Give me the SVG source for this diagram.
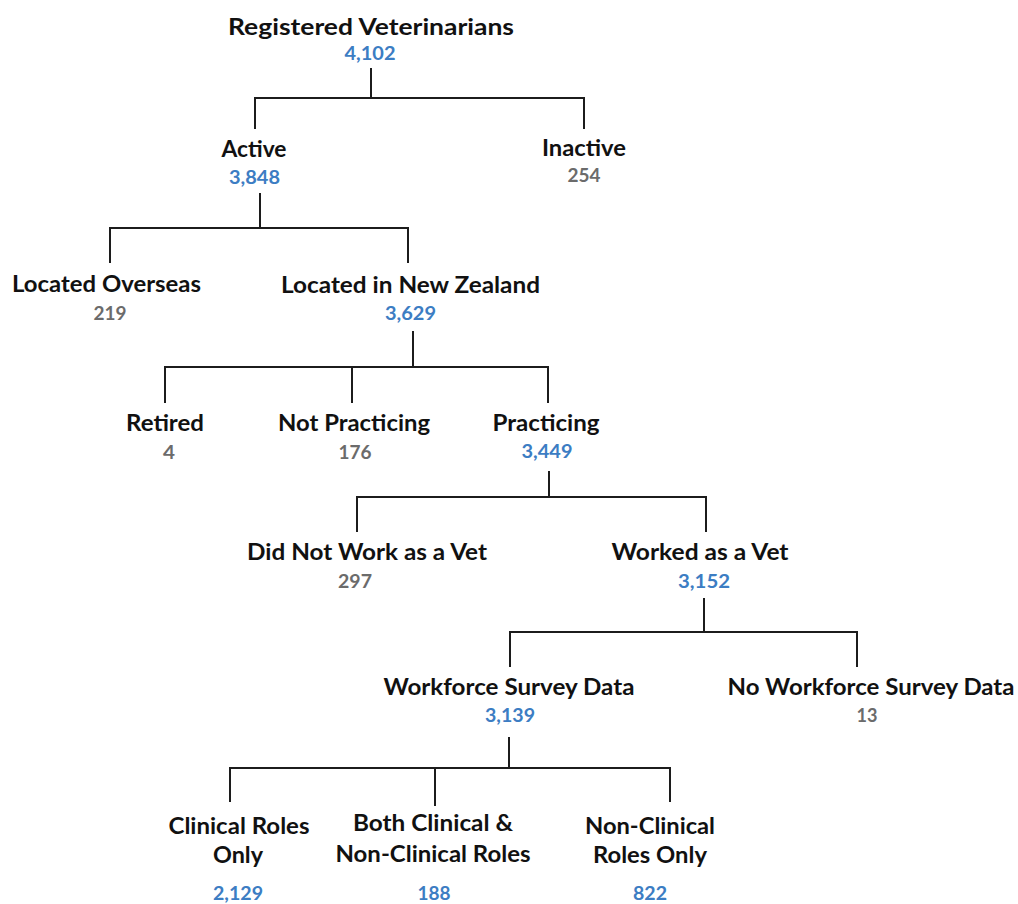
<svg xmlns="http://www.w3.org/2000/svg" width="1018" height="904" viewBox="0 0 1018 904">
<style>
text{font-family:Lato,"Liberation Sans",sans-serif;font-weight:bold;text-anchor:middle}
.l{font-size:22px;fill:#111}
.b{font-size:19px;fill:#3c7dc3}
.g{font-size:19px;fill:#6b6b6b}
.c path{fill:none;stroke:#1c1c1c;stroke-width:2}
</style>
<rect width="1018" height="904" fill="#fff"/>
<g class="c" id="connectors">
<path d="M371,68V98M255,129V98H584V129"/>
<path d="M260,193V228M110,263V228H408V263"/>
<path d="M413,331V367M165,403V367H548V403M352,367V403"/>
<path d="M549,471V497M357,532V497H706V532"/>
<path d="M704,598V632M510,667V632H857V667"/>
<path d="M509,737V768M230,802V768H670V802M435,768V806"/>
</g>
<g id="n-registered"><text class="l" x="371" y="35" textLength="286" lengthAdjust="spacingAndGlyphs">Registered Veterinarians</text><text class="b" x="370" y="60" textLength="51" lengthAdjust="spacingAndGlyphs">4,102</text></g>
<g id="n-active"><text class="l" x="254" y="157" textLength="65" lengthAdjust="spacingAndGlyphs">Active</text><text class="b" x="254.5" y="184" textLength="51" lengthAdjust="spacingAndGlyphs">3,848</text></g>
<g id="n-inactive"><text class="l" x="584" y="156" textLength="84" lengthAdjust="spacingAndGlyphs">Inactive</text><text class="g" x="584" y="182" textLength="33" lengthAdjust="spacingAndGlyphs">254</text></g>
<g id="n-overseas"><text class="l" x="106.5" y="292" textLength="189" lengthAdjust="spacingAndGlyphs">Located Overseas</text><text class="g" x="110" y="320" textLength="33" lengthAdjust="spacingAndGlyphs">219</text></g>
<g id="n-nz"><text class="l" x="410.5" y="293" textLength="259" lengthAdjust="spacingAndGlyphs">Located in New Zealand</text><text class="b" x="410.5" y="320" textLength="51" lengthAdjust="spacingAndGlyphs">3,629</text></g>
<g id="n-retired"><text class="l" x="165" y="431" textLength="78" lengthAdjust="spacingAndGlyphs">Retired</text><text class="g" x="169" y="459" textLength="12" lengthAdjust="spacingAndGlyphs">4</text></g>
<g id="n-notpracticing"><text class="l" x="354" y="431" textLength="152" lengthAdjust="spacingAndGlyphs">Not Practicing</text><text class="g" x="355" y="459" textLength="33" lengthAdjust="spacingAndGlyphs">176</text></g>
<g id="n-practicing"><text class="l" x="546" y="431" textLength="107" lengthAdjust="spacingAndGlyphs">Practicing</text><text class="b" x="547" y="458" textLength="51" lengthAdjust="spacingAndGlyphs">3,449</text></g>
<g id="n-didnotwork"><text class="l" x="367" y="560" textLength="240" lengthAdjust="spacingAndGlyphs">Did Not Work as a Vet</text><text class="g" x="355" y="588" textLength="34" lengthAdjust="spacingAndGlyphs">297</text></g>
<g id="n-worked"><text class="l" x="700" y="560" textLength="177" lengthAdjust="spacingAndGlyphs">Worked as a Vet</text><text class="b" x="704" y="588" textLength="52" lengthAdjust="spacingAndGlyphs">3,152</text></g>
<g id="n-survey"><text class="l" x="509" y="695" textLength="251" lengthAdjust="spacingAndGlyphs">Workforce Survey Data</text><text class="b" x="510" y="722" textLength="50" lengthAdjust="spacingAndGlyphs">3,139</text></g>
<g id="n-nosurvey"><text class="l" x="871" y="695" textLength="287" lengthAdjust="spacingAndGlyphs">No Workforce Survey Data</text><text class="g" x="867" y="722" textLength="21" lengthAdjust="spacingAndGlyphs">13</text></g>
<g id="n-clinical"><text class="l" x="239" y="834" textLength="141" lengthAdjust="spacingAndGlyphs">Clinical Roles</text><text class="l" x="238" y="863" textLength="50" lengthAdjust="spacingAndGlyphs">Only</text><text class="b" x="238" y="900" textLength="50" lengthAdjust="spacingAndGlyphs">2,129</text></g>
<g id="n-both"><text class="l" x="433" y="831" textLength="160" lengthAdjust="spacingAndGlyphs">Both Clinical &amp;</text><text class="l" x="433" y="862" textLength="195" lengthAdjust="spacingAndGlyphs">Non-Clinical Roles</text><text class="b" x="434" y="900" textLength="33" lengthAdjust="spacingAndGlyphs">188</text></g>
<g id="n-nonclinical"><text class="l" x="650" y="834" textLength="130" lengthAdjust="spacingAndGlyphs">Non-Clinical</text><text class="l" x="650" y="863" textLength="114" lengthAdjust="spacingAndGlyphs">Roles Only</text><text class="b" x="650" y="900" textLength="34" lengthAdjust="spacingAndGlyphs">822</text></g>
</svg>
